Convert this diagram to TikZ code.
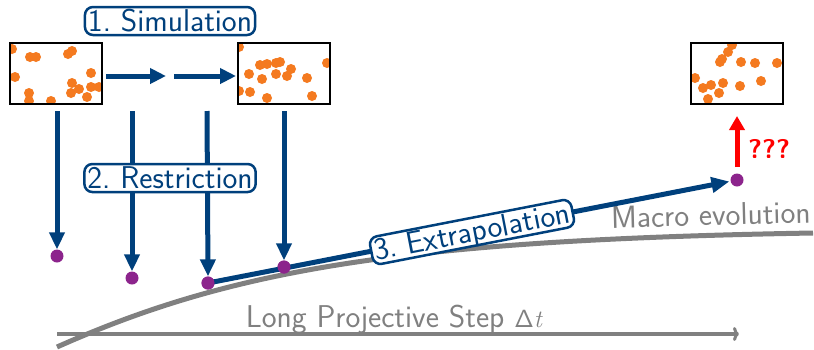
\documentclass[tikz,border=0pt]{standalone}
\usetikzlibrary{arrows.meta}
\definecolor{dblue}{RGB}{0,64,124}
\definecolor{dorange}{RGB}{244,122,32}
\definecolor{dpurple}{RGB}{140,36,140}
\definecolor{dgray}{RGB}{128,128,128}
\begin{document}
\begin{tikzpicture}[x=1pt,y=-1pt,
  font=\fontsize{31.5}{34}\selectfont\sffamily,
  frame/.style={draw=black,line width=2pt,fill=white},
  mdot/.style={circle,fill=dpurple,inner sep=0pt,minimum size=13pt},
  varrow/.style={draw=dblue,line width=5pt,-{Triangle[length=17pt,width=15pt]}},
  harrow/.style={draw=dblue,line width=5pt,-{Triangle[length=16pt,width=15pt]}},
  label/.style={draw=dblue,line width=2.5pt,fill=white,rounded corners=8pt,text=dblue,inner xsep=3pt,inner ysep=3pt,text height=21pt,text depth=1pt},
  graytext/.style={text=dgray}
]
\useasboundingbox (0,0) rectangle (814,349);

% frames with particles
\newcommand{\particlebox}[3]{%
  \draw[frame] (#1,#2) rectangle ++(92,61);
  \begin{scope}
    \clip (#1,#2) rectangle ++(92,61);
    \foreach \p in {#3} \fill[dorange] \p circle (5);
  \end{scope}
  \draw[black,line width=2pt] (#1,#2) rectangle ++(92,61);
}
\particlebox{10}{43}{(12,49),(30,57),(36,57),(68,54),(72,51),(15,77),(91,73),(72,83),(79,89),(91,87),(99,87),(29,93),(71,93),(29,101),(51,101),(87,97)}
\particlebox{238}{43}{(239,47),(260,65),(267,64),(276,63),(280,62),(327,63),(249,74),(276,74),(287,76),(291,69),(262,79),(307,78),(239,91),(250,92),(267,98),(312,96)}
\particlebox{691}{43}{(732,45),(728,52),(722,59),(720,62),(741,62),(755,63),(777,63),(695,78),(703,88),(711,85),(723,83),(740,86),(761,81),(719,93),(708,99)}

\coordinate (b1) at (106,76);
\coordinate (m1) at (166,76);
\coordinate (m2) at (174,76);
\coordinate (b2) at (236,76);
\draw[harrow] (b1) -- (m1);
\draw[harrow] (m2) -- (b2);

% gray macro evolution curve
\coordinate (c0) at (57,347);
\coordinate (c1) at (813,233);
\draw[dgray,line width=5pt] (c0) .. controls (230,270) and (400,240) .. (c1);

% long projective step arrow
\coordinate (s0) at (57,334);
\coordinate (s1) at (739,334);
\draw[dgray,line width=3.5pt,-{To[length=6pt,width=14pt,line width=3pt]}] (s0) -- (s1);
\node[graytext,anchor=base] (lps) at (395,327) {Long Projective Step $\mathsf{\Delta}\mathit{t}$};
\node[graytext,anchor=base east,rotate=1.5,inner sep=0pt] (me) at (811,223) {Macro evolution};

% macro dots
\node[mdot] (d1) at (57,256) {};
\node[mdot] (d2) at (132,278) {};
\node[mdot] (d3) at (208,283) {};
\node[mdot] (d4) at (284,267) {};
\node[mdot] (d5) at (737,180) {};

% restriction arrows
\coordinate (t1) at (57,111);
\coordinate (t2) at (132,111);
\coordinate (t3) at (207,111);
\coordinate (t4) at (284,111);
\draw[varrow] (t1) -- (d1);
\draw[varrow] (t2) -- (d2);
\draw[varrow] (t3) -- (d3.north);
\draw[varrow] (t4) -- (d4);

% extrapolation
\draw[dblue,line width=5pt,shorten >=1pt,-{Triangle[length=18pt,width=15pt]}] (d3.center) -- (d5);
\node[mdot] at (d3) {};
\node[mdot] at (d4) {};

% labels
\node[label] (sim) at (170,21) {1.\ Simulation};
\node[label] (res) at (170,178) {2.\ Restriction};
\node[label,rotate=11] (ext) at (472,232) {3.\ Extrapolation};

% red question arrow
\coordinate (r0) at (737,167);
\coordinate (r1) at (737,116);
\draw[red,line width=5pt,-{Triangle[length=14pt,width=15pt]}] (r0) -- (r1);
\node[text=red,font=\fontsize{27}{30}\selectfont\sffamily\bfseries,anchor=west,inner sep=0pt] (q) at (748,149) {???};
\end{tikzpicture}
\end{document}
